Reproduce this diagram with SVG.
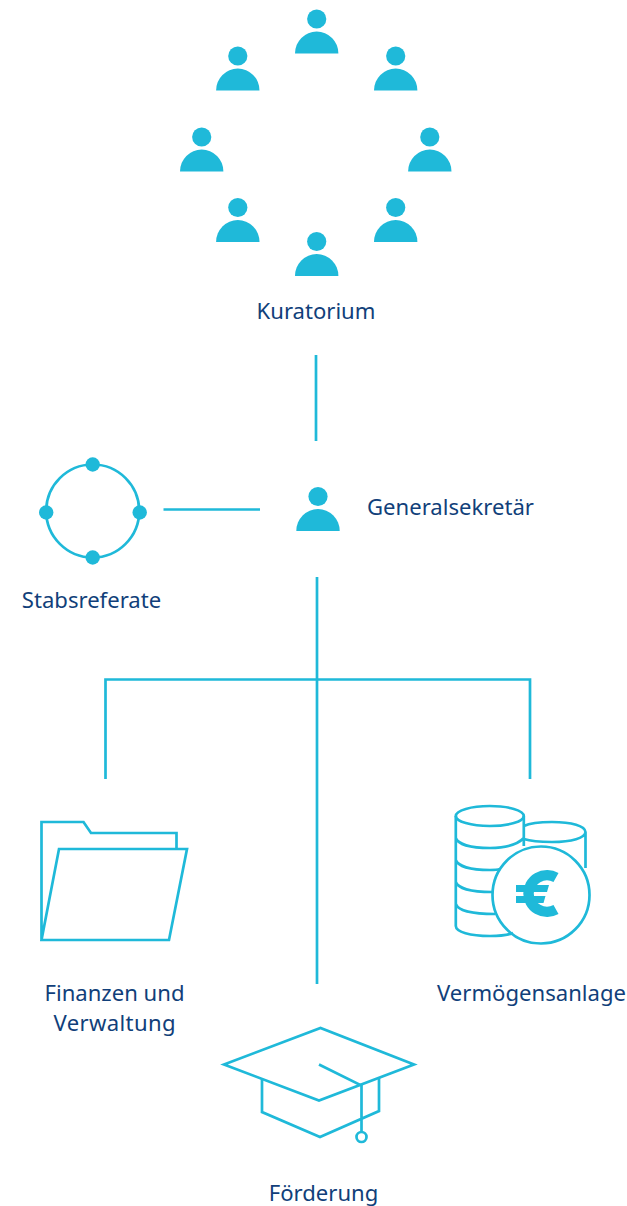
<svg xmlns="http://www.w3.org/2000/svg" xmlns:xlink="http://www.w3.org/1999/xlink" width="627" height="1206" viewBox="0 0 627 1206">
<style>
.t{font-family:"Noto Sans","Open Sans",sans-serif;font-size:22.1px;fill:#113f7a;text-anchor:middle}
.l{fill:none;stroke:#1fb9d9;stroke-width:2.7}
.f{fill:#1fb9d9}
</style>
<defs>
<g id="p" class="f"><circle cx="0" cy="-34.5" r="9.6"/><path d="M-21.7 0A21.7 22 0 0 1 21.7 0Z"/></g>
</defs>
<rect width="627" height="1206" fill="#fff"/>
<g id="connectors" class="l">
<path d="M316 355V441"/>
<path d="M163.500 509.500H260"/>
<path d="M317 577V984"/>
<path d="M105.500 779V679.500H530V779"/>
</g>
<g id="kuratorium">
<use xlink:href="#p" href="#p" x="316.700" y="53.500"/>
<use xlink:href="#p" href="#p" x="237.800" y="90.500"/>
<use xlink:href="#p" href="#p" x="395.700" y="90.500"/>
<use xlink:href="#p" href="#p" x="201.700" y="171.500"/>
<use xlink:href="#p" href="#p" x="429.800" y="171.500"/>
<use xlink:href="#p" href="#p" x="237.800" y="242"/>
<use xlink:href="#p" href="#p" x="395.700" y="242"/>
<use xlink:href="#p" href="#p" x="316.700" y="276"/>
<text class="t" x="316" y="319">Kuratorium</text>
</g>
<g id="generalsekretaer">
<use xlink:href="#p" href="#p" x="318" y="531"/>
<text class="t" x="450.500" y="515">Generalsekretär</text>
</g>
<g id="stabsreferate">
<circle class="l" cx="92.700" cy="511" r="46.500"/>
<circle class="f" cx="92.700" cy="464.500" r="7.200"/>
<circle class="f" cx="92.700" cy="557.500" r="7.200"/>
<circle class="f" cx="46.200" cy="512.500" r="7.200"/>
<circle class="f" cx="139.700" cy="512.500" r="7.200"/>
<text class="t" x="91.500" y="608">Stabsreferate</text>
</g>
<g id="finanzen">
<path class="l" stroke-linejoin="miter" d="M41.500 940V822H83.500L91 833H176.500V849M41.500 940L59 849H187L169 940Z"/>
<text class="t" x="114.500" y="1001">Finanzen und</text>
<text class="t" x="114.500" y="1031" textLength="122">Verwaltung</text>
</g>
<g id="vermoegensanlage">
<ellipse class="l" cx="489.800" cy="816" rx="34" ry="10"/>
<path class="l" d="M455.800 816V926C456 932 470 936 490 936C500 936 508 935 513 933M455.800 838C458 844 470 848 490 848C505 848 517 845 523.800 838M455.800 860C458 866 470 870 490 870C494 870 497 870 500 869M455.800 882C458 888 470 892 492 892M455.800 904C458 910 470 914 495 914M523.800 816V846M523.800 826C530 823 540 822 552 822C572 822 585 826 585.500 832C585 838 572 842 552 842C540 842 530 841 523.800 839M585.500 832V868"/>
<circle class="l" cx="541" cy="895" r="48.500" fill="#fff"/>
<path d="M556 877.500A18.500 18.300 0 1 0 556 909.500" fill="none" stroke="#1fb9d9" stroke-width="10.500"/>
<path class="f" d="M516 885H549L547 892H516ZM516 896H545.500L543.500 903H516Z"/>
<text class="t" x="531.500" y="1001">Vermögensanlage</text>
</g>
<g id="foerderung">
<path class="l" d="M224 1064.500L320.500 1028L414 1064.500L319 1100.500Z"/>
<path class="l" d="M262 1079V1112L320 1137L379 1111V1077M319 1064.500L361.500 1085.500V1132"/>
<circle class="l" cx="361.500" cy="1137" r="5"/>
<text class="t" x="323.500" y="1201">Förderung</text>
</g>
</svg>
